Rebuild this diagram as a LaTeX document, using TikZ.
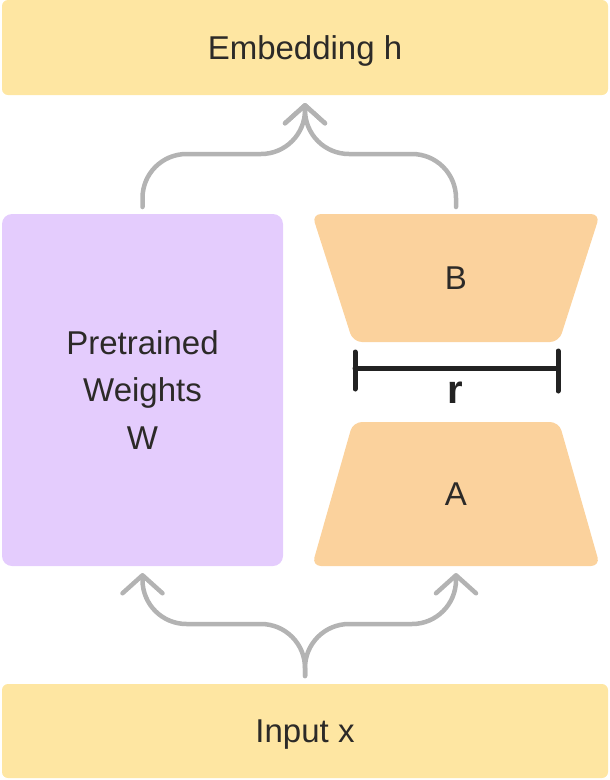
\documentclass[tikz,border=0pt]{standalone}
\usepackage{xcolor}
\usepackage{fontspec}
\setmainfont{Liberation Sans}
\usetikzlibrary{calc,arrows.meta}

\definecolor{embyellow}{HTML}{FEE6A2}
\definecolor{wpurple}{HTML}{E4CCFD}
\definecolor{loraorange}{HTML}{FBD29D}
\definecolor{flowgray}{HTML}{B3B3B3}
\definecolor{inkdark}{HTML}{2C2A28}
\definecolor{rankdark}{HTML}{222222}

\tikzset{
    band/.style={fill=embyellow, rounded corners=6pt, minimum width=606pt, text depth=0pt, inner sep=0pt, outer sep=0pt},
    frozen/.style={fill=wpurple, rounded corners=10pt, minimum width=281pt, minimum height=352pt, align=center, inner sep=0pt, outer sep=0pt},
    adapter/.style={fill=loraorange, rounded corners=9pt},
    flow/.style={draw=flowgray, line width=4.5pt, line cap=round, rounded corners=44pt, -{Straight Barb[length=18pt,width=40pt,round]}},
    dim/.style={draw=rankdark, line width=5pt, line cap=round},
}

\begin{document}
\begin{tikzpicture}[x=1pt, y=-1pt, font=\fontsize{33}{47.5}\selectfont, text=inkdark]
        \useasboundingbox (0,0) rectangle (610,780);

        % boxes
        \node[band, minimum height=95pt] (emb) at (305,47.5) {Embedding h};
        \node[band, minimum height=94pt] (inp) at (305,731) {Input x};
        \node[frozen] (pre) at (142.5,390) {Pretrained\\Weights\\W};

        % low-rank pair
        \coordinate (Bc) at (456,278);
        \coordinate (Ac) at (456,494);
        \fill[adapter] ($(Bc)+(-144,-64)$) -- ++(288,0) -- ++(-41,128) -- ++(-206,0) -- cycle;
        \fill[adapter] ($(Ac)+(-103,-72)$) -- ++(206,0) -- ++(41,144) -- ++(-288,0) -- cycle;
        \node (B) at (Bc) {B};
        \node (A) at (Ac) {A};

        % rank
        \coordinate (rl) at (355,368);
        \coordinate (rr) at (558,368);
        \draw[dim] (rl) -- (rr);
        \draw[dim] ([yshift=16pt]rl) -- ([yshift=-21pt]rl);
        \draw[dim] ([yshift=17pt]rr) -- ([yshift=-23pt]rr);
        \node[font=\fontsize{40}{40}\selectfont\bfseries, text=rankdark] (r) at (455,393) {r};

        % arrows
        \coordinate (jtop) at (305,154);
        \coordinate (jbot) at (305,624);
        \coordinate (legL) at ([yshift=7pt]pre.north);
        \coordinate (legR) at (legL -| B);
        \coordinate (tipT) at ([yshift=-8pt]emb.south);
        \coordinate (rootB) at ([yshift=8pt]inp.north);
        \coordinate (tipL) at ([yshift=-7pt]pre.south);
        \coordinate (tipR) at (tipL -| A);
        \draw[flow] (legL) |- (jtop) -- (tipT);
        \draw[flow] (legR) |- (jtop) -- (tipT);
        \draw[flow] (rootB) -- (jbot) -| (tipL);
        \draw[flow] (rootB) -- (jbot) -| (tipR);
    \end{tikzpicture}
\end{document}
